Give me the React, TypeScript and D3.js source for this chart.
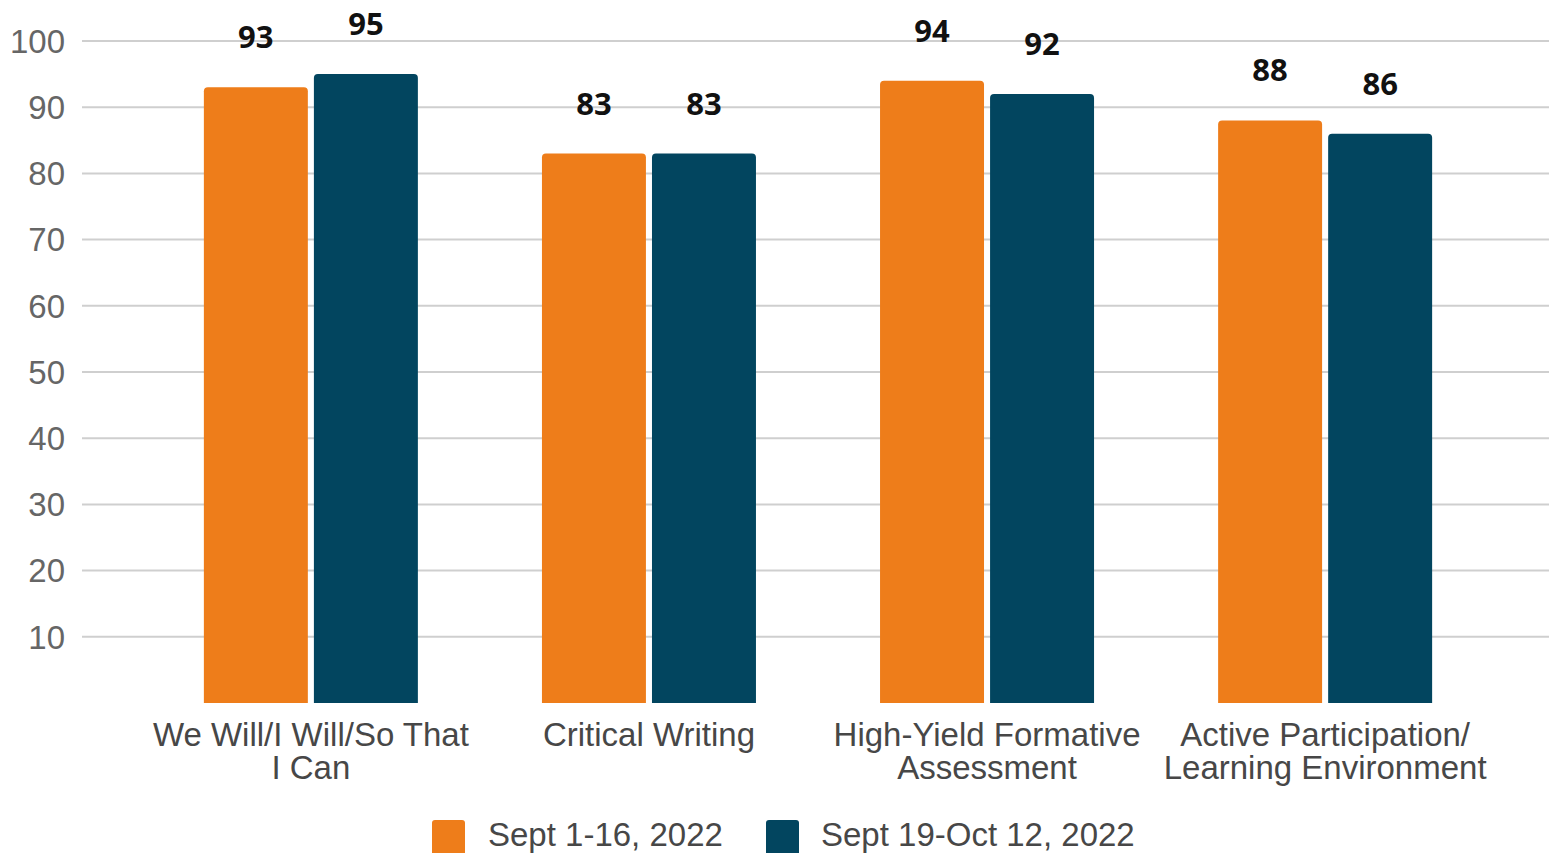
import React from "react";
import * as d3 from "d3";

const categories: string[][] = [
  ["We Will/I Will/So That", "I Can"],
  ["Critical Writing"],
  ["High-Yield Formative", "Assessment"],
  ["Active Participation/", "Learning Environment"],
];
const seriesNames = ["Sept 1-16, 2022", "Sept 19-Oct 12, 2022"];
const sept1to16 = [93, 83, 94, 88];
const sept19toOct12 = [95, 83, 92, 86];
const yTicks = [10, 20, 30, 40, 50, 60, 70, 80, 90, 100];
const colors = ["#EE7D1A", "#02455F"];

const W = 1549;
const H = 853;

export default function App() {
  const keys = categories.map((_, i) => String(i));
  const x0 = d3.scaleBand<string>().domain(keys).range([142, 1494]).paddingInner(0.367).paddingOuter(0.183);
  const x1 = d3.scaleBand<string>().domain(["0", "1"]).range([0, x0.bandwidth()]).paddingInner(0.055);
  const y = d3.scaleLinear().domain([0, 100]).range([703, 41]);
  const series = [sept1to16, sept19toOct12];
  const axisFont = "'Liberation Sans', Arial, sans-serif";

  return (
    <svg width={W} height={H} style={{ position: "absolute", left: 0, top: 0, display: "block" }}>
      <rect x={0} y={0} width={W} height={H} fill="#fff" />
      {yTicks.map((t) => (
        <g key={t}>
          <line x1={82} x2={W} y1={y(t)} y2={y(t)} stroke="#cfcfcf" strokeWidth={2} />
          <text x={65} y={y(t)} dy="0.36em" textAnchor="end" fontFamily={axisFont} fontSize={33} fill="#666">
            {t}
          </text>
        </g>
      ))}
      {keys.map((k, ci) => (
        <g key={k} transform={`translate(${x0(k)},0)`}>
          {series.map((vals, si) => {
            const bx = x1(String(si))!;
            const top = y(vals[ci]);
            const w = x1.bandwidth();
            const r = 4;
            const path = `M${bx},${y(0)} V${top + r} Q${bx},${top} ${bx + r},${top} H${bx + w - r} Q${bx + w},${top} ${bx + w},${top + r} V${y(0)} Z`;
            return (
              <g key={si}>
                <path d={path} fill={colors[si]} />
                <text
                  x={bx + w / 2}
                  y={top - 39}
                  textAnchor="middle"
                  fontFamily="'Open Sans', sans-serif"
                  fontWeight={700}
                  fontSize={31}
                  fill="#111"
                >
                  {vals[ci]}
                </text>
              </g>
            );
          })}
          <text
            x={x0.bandwidth() / 2}
            y={746}
            textAnchor="middle"
            fontFamily={axisFont}
            fontSize={33}
            fill="#474747"
          >
            {categories[ci].map((line, li) => (
              <tspan key={li} x={x0.bandwidth() / 2} dy={li === 0 ? 0 : 33}>
                {line}
              </tspan>
            ))}
          </text>
        </g>
      ))}
      <g>
        <rect x={432} y={820} width={33} height={40} rx={3} fill={colors[0]} />
        <text x={488} y={846} fontFamily={axisFont} fontSize={33} fill="#474747">{seriesNames[0]}</text>
        <rect x={766} y={820} width={33} height={40} rx={3} fill={colors[1]} />
        <text x={821} y={846} fontFamily={axisFont} fontSize={33} fill="#474747">{seriesNames[1]}</text>
      </g>
    </svg>
  );
}
